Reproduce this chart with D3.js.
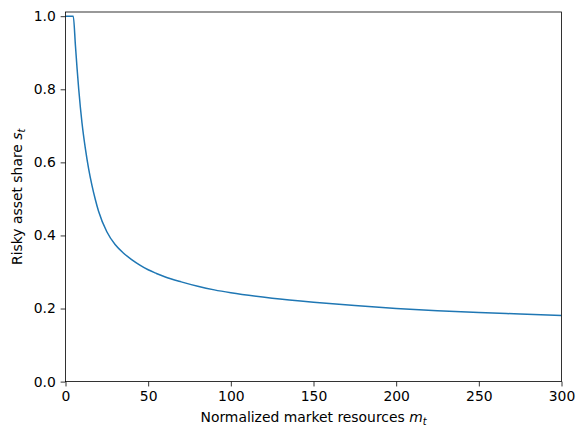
<!DOCTYPE html>
<html>
<head>
<meta charset="utf-8">
<script src="https://cdn.jsdelivr.net/npm/d3@7"></script>
<style>
  body { margin: 0; background: #fff; }
  text { font-family: "DejaVu Sans", sans-serif; fill: #000; }
</style>
</head>
<body>
<div id="chart"></div>
<script>
const width = 584, height = 438;

// normalized market resources m_t and risky share s_t
const mValues = [0, 4.7, 6, 7, 8, 9, 10, 12, 14, 16, 18, 20, 25, 30, 35, 40, 45, 50, 55, 60, 70, 80, 90, 100, 125, 150, 175, 200, 225, 250, 275, 300];
const shareValues = [1.0, 1.0, 0.92, 0.857, 0.80, 0.75, 0.707, 0.638, 0.582, 0.537, 0.499, 0.466, 0.41, 0.375, 0.352, 0.334, 0.319, 0.306, 0.296, 0.287, 0.273, 0.261, 0.251, 0.243, 0.228, 0.217, 0.208, 0.200, 0.194, 0.189, 0.185, 0.181];
const xTicks = [0, 50, 100, 150, 200, 250, 300];
const yTicks = [0.0, 0.2, 0.4, 0.6, 0.8, 1.0];

const margin = {left: 65.5, right: 22.5, top: 12, bottom: 56.4};
const fontSize = 13.9, tickLen = 4.86, tickPad = 4.86;

let svg = d3.select("#chart")
  .append("svg")
  .attr("width", width)
  .attr("height", height);

let x = d3.scaleLinear().domain([0, 300]).range([margin.left, width - margin.right]);
let y = d3.scaleLinear().domain([0, 1.0115]).range([height - margin.bottom, margin.top]);

let data = mValues.map((m, i) => ({m: m, s: shareValues[i]}));

let line = d3.line()
  .x((d) => x(d.m))
  .y((d) => y(d.s))
  .curve(d3.curveMonotoneX);

svg.append("defs").append("clipPath")
  .attr("id", "clip")
  .append("rect")
  .attr("x", x(0)).attr("y", y(1.0115))
  .attr("width", x(300) - x(0)).attr("height", y(0) - y(1.0115));

svg.append("path")
  .datum(data)
  .attr("clip-path", "url(#clip)")
  .attr("fill", "none")
  .attr("stroke", "#1f77b4")
  .attr("stroke-width", 1.5)
  .attr("stroke-linejoin", "round")
  .attr("d", line);

// axes
let xAxis = svg.append("g")
  .attr("transform", "translate(0," + y(0) + ")")
  .call(d3.axisBottom(x).tickValues(xTicks).tickFormat(d3.format("d")).tickSizeInner(tickLen).tickSizeOuter(0).tickPadding(tickPad));

let yAxis = svg.append("g")
  .attr("transform", "translate(" + x(0) + ",0)")
  .call(d3.axisLeft(y).tickValues(yTicks).tickFormat(d3.format(".1f")).tickSizeInner(tickLen).tickSizeOuter(0).tickPadding(tickPad));

[xAxis, yAxis].forEach((g) => {
  g.selectAll("text").attr("font-size", fontSize).attr("font-family", "DejaVu Sans, sans-serif").attr("fill", "#000");
  g.selectAll("line").attr("stroke", "#000").attr("stroke-width", 0.8);
  g.select(".domain").remove();
});

// frame
svg.append("rect")
  .attr("x", x(0)).attr("y", y(1.0115))
  .attr("width", x(300) - x(0)).attr("height", y(0) - y(1.0115))
  .attr("fill", "none")
  .attr("stroke", "#000")
  .attr("stroke-width", 0.8);

// axis labels with math subscripts
let xLabel = svg.append("text")
  .attr("x", (x(0) + x(300)) / 2)
  .attr("y", 422)
  .attr("text-anchor", "middle")
  .attr("font-size", fontSize);
xLabel.append("tspan").text("Normalized market resources ");
xLabel.append("tspan").attr("font-style", "italic").text("m");
xLabel.append("tspan").attr("font-style", "italic").attr("font-size", fontSize * 0.7).attr("dy", 2.5).text("t");

let yLabel = svg.append("text")
  .attr("transform", "translate(22," + (y(0) + y(1.0115)) / 2 + ") rotate(-90)")
  .attr("text-anchor", "middle")
  .attr("font-size", fontSize);
yLabel.append("tspan").text("Risky asset share ");
yLabel.append("tspan").attr("font-style", "italic").text("s");
yLabel.append("tspan").attr("font-style", "italic").attr("font-size", fontSize * 0.7).attr("dy", 2.5).text("t");
</script>
</body>
</html>
